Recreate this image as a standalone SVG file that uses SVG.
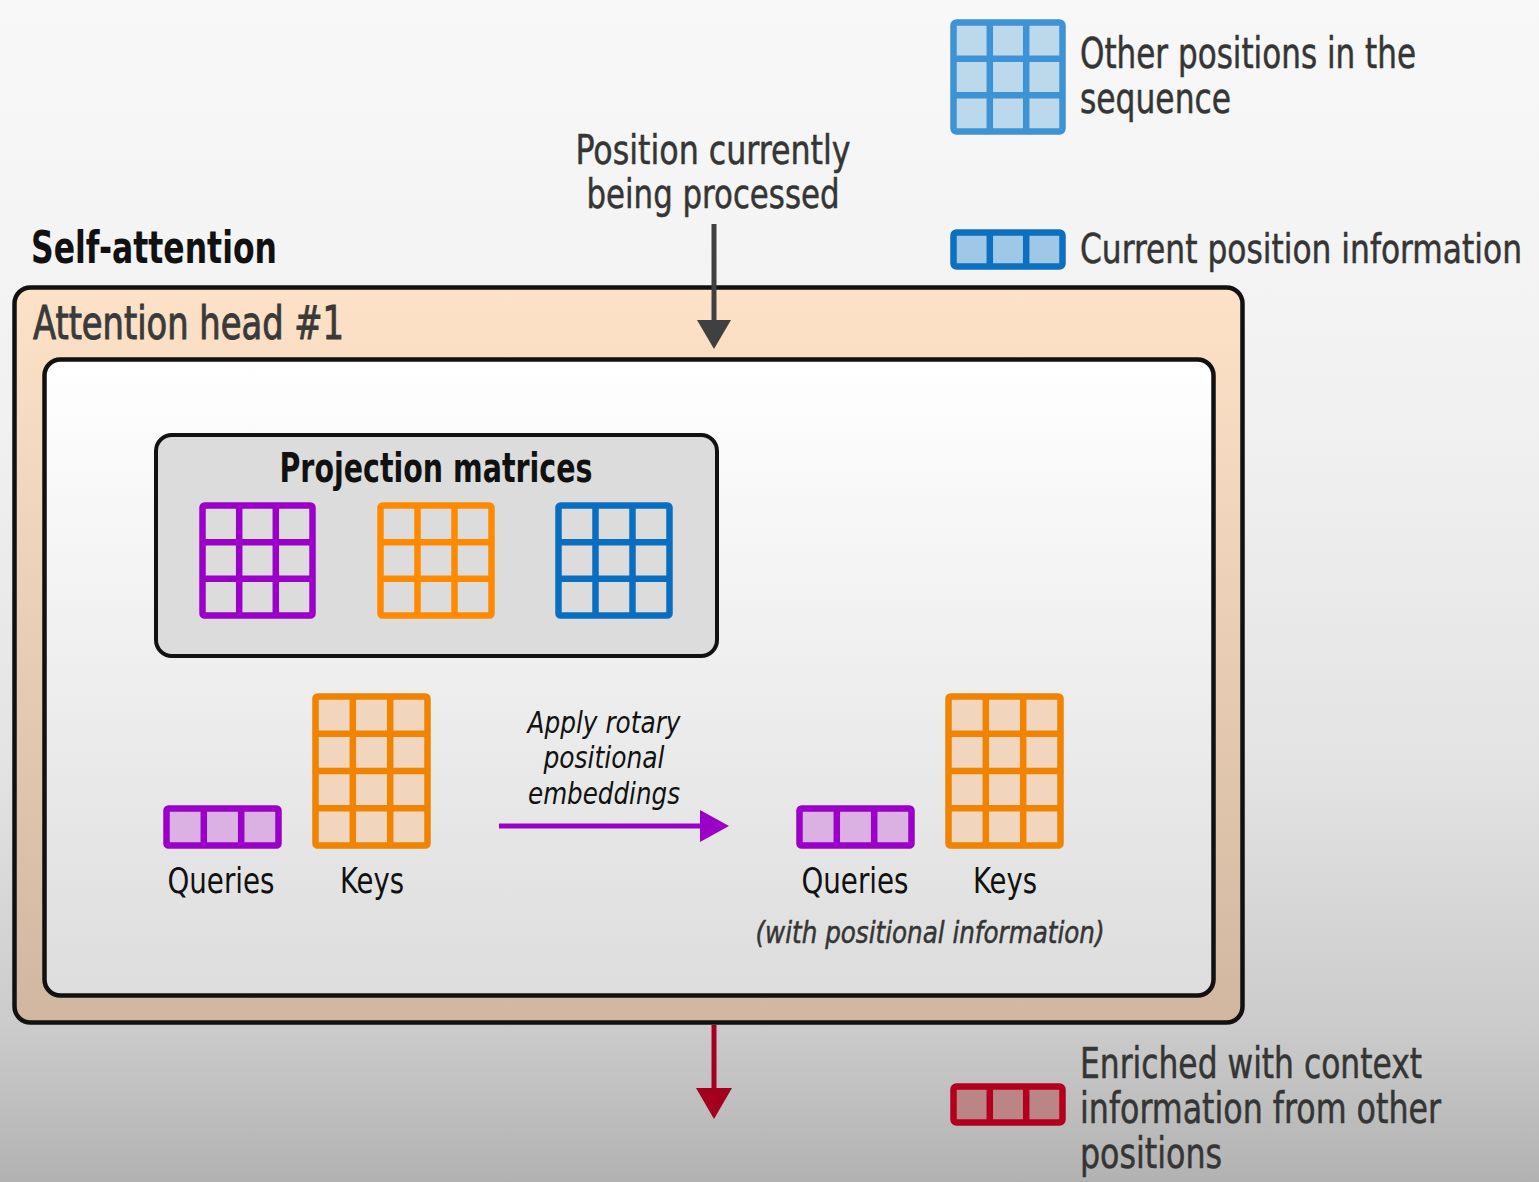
<svg xmlns="http://www.w3.org/2000/svg" width="1539" height="1182" viewBox="0 0 1539 1182">
<defs>
<linearGradient id="bg" x1="0" y1="0" x2="0" y2="1">
<stop offset="0" stop-color="#f8f8f8"/>
<stop offset="0.35" stop-color="#f1f1f1"/>
<stop offset="0.65" stop-color="#e3e3e3"/>
<stop offset="0.87" stop-color="#cbcbcb"/>
<stop offset="1" stop-color="#b2b2b2"/>
</linearGradient>
<linearGradient id="outer" x1="0" y1="0" x2="0" y2="1">
<stop offset="0" stop-color="#fee2c8"/>
<stop offset="1" stop-color="#d2b7a0"/>
</linearGradient>
<linearGradient id="inner" x1="0" y1="0" x2="0" y2="1">
<stop offset="0" stop-color="#ffffff"/>
<stop offset="1" stop-color="#dddddd"/>
</linearGradient>
<style>
.t{font-family:"DejaVu Sans Condensed","DejaVu Sans","Liberation Sans",sans-serif;font-stretch:condensed;}
.dark{fill:#353535;stroke:#353535;stroke-width:0.5;}
.blk{fill:#111111;}
.box{stroke:#111;stroke-width:4.5;}
.g{stroke-width:6.5;stroke-linejoin:round;}
</style>
</defs>
<rect width="1539" height="1182" fill="url(#bg)"/>

<g id="legend-other">
<g class="g" stroke="#3d93d3" fill="#bcd9ec">
<rect x="953.5" y="22.5" width="109" height="109" rx="3"/>
<path d="M989.8 22.5V131.5M1026.2 22.5V131.5M953.5 58.8H1062.5M953.5 95.2H1062.5" fill="none"/>
</g>
<text class="t dark" font-size="42" x="1080" y="68" textLength="336" lengthAdjust="spacingAndGlyphs">Other positions in the</text>
<text class="t dark" font-size="42" x="1080" y="113" textLength="151" lengthAdjust="spacingAndGlyphs">sequence</text>
</g>

<g id="legend-current">
<g class="g" stroke="#0d6fc0" fill="#9fc8e6">
<rect x="953.5" y="232.5" width="109" height="34" rx="3"/>
<path d="M989.8 232.5V266.5M1026.2 232.5V266.5" fill="none"/>
</g>
<text class="t dark" font-size="41" x="1080" y="263" textLength="442" lengthAdjust="spacingAndGlyphs">Current position information</text>
</g>

<g id="legend-enriched">
<g class="g" stroke="#b3001e" fill="#bb8585">
<rect x="953.5" y="1086.5" width="109" height="36" rx="3"/>
<path d="M989.8 1086.5V1122.5M1026.2 1086.5V1122.5" fill="none"/>
</g>
<text class="t dark" font-size="42" x="1080" y="1078" textLength="342" lengthAdjust="spacingAndGlyphs">Enriched with context</text>
<text class="t dark" font-size="42" x="1080" y="1123" textLength="361" lengthAdjust="spacingAndGlyphs">information from other</text>
<text class="t dark" font-size="42" x="1080" y="1168" textLength="142" lengthAdjust="spacingAndGlyphs">positions</text>
</g>

<g id="position-label">
<text class="t dark" font-size="40" x="713" y="164" text-anchor="middle" textLength="275" lengthAdjust="spacingAndGlyphs">Position currently</text>
<text class="t dark" font-size="40" x="713" y="208" text-anchor="middle" textLength="253" lengthAdjust="spacingAndGlyphs">being processed</text>
</g>

<g id="self-attention">
<text class="t blk" font-size="44" font-weight="bold" x="31" y="263" textLength="246" lengthAdjust="spacingAndGlyphs">Self-attention</text>
</g>

<g id="attention-head">
<rect class="box" x="14.5" y="287.5" width="1228" height="735" rx="16" fill="url(#outer)"/>
<text class="t" fill="#3a3a3a" stroke="#3a3a3a" stroke-width="1" font-size="47" x="33" y="339" textLength="311" lengthAdjust="spacingAndGlyphs">Attention head #1</text>
</g>

<g id="inner-box">
<rect class="box" x="44.5" y="359.5" width="1169" height="636" rx="16" fill="url(#inner)"/>
</g>

<g id="projection-matrices">
<rect x="156" y="435" width="561" height="221" rx="16" fill="#dcdcdc" stroke="#111" stroke-width="4"/>
<text class="t blk" font-size="40" font-weight="bold" x="436" y="482" text-anchor="middle" textLength="313" lengthAdjust="spacingAndGlyphs">Projection matrices</text>
<g class="g" stroke="#9a00c8" fill="none">
<rect x="202.5" y="505.5" width="110" height="110" rx="2"/>
<path d="M239.2 505.5V615.5M275.8 505.5V615.5M202.5 542.2H312.5M202.5 578.8H312.5"/>
</g>
<g class="g" stroke="#ff8a00" fill="none">
<rect x="380.5" y="505.5" width="111" height="110" rx="2"/>
<path d="M417.5 505.5V615.5M454.5 505.5V615.5M380.5 542.2H491.5M380.5 578.8H491.5"/>
</g>
<g class="g" stroke="#0a6ec0" fill="none">
<rect x="558.5" y="505.5" width="111" height="110" rx="2"/>
<path d="M595.5 505.5V615.5M632.5 505.5V615.5M558.5 542.2H669.5M558.5 578.8H669.5"/>
</g>
</g>

<g id="queries-left">
<g class="g" stroke="#9a00c8" fill="#dbb0e3">
<rect x="166.5" y="808.5" width="112" height="37" rx="2"/>
<path d="M203.8 808.5V845.5M241.2 808.5V845.5" fill="none"/>
</g>
<text class="t blk" font-size="36" x="221" y="893" text-anchor="middle" textLength="107" lengthAdjust="spacingAndGlyphs">Queries</text>
</g>

<g id="keys-left">
<g class="g" stroke="#f08300" fill="#f1d6bd">
<rect x="315.5" y="696.5" width="112" height="149" rx="2"/>
<path d="M352.8 696.5V845.5M390.2 696.5V845.5M315.5 733.8H427.5M315.5 771H427.5M315.5 808.2H427.5" fill="none"/>
</g>
<text class="t blk" font-size="36" x="372" y="893" text-anchor="middle" textLength="64" lengthAdjust="spacingAndGlyphs">Keys</text>
</g>

<g id="rotary-label">
<text class="t blk" font-size="31" font-style="italic" x="604" y="733" text-anchor="middle" textLength="153" lengthAdjust="spacingAndGlyphs">Apply rotary</text>
<text class="t blk" font-size="31" font-style="italic" x="604" y="768" text-anchor="middle" textLength="121" lengthAdjust="spacingAndGlyphs">positional</text>
<text class="t blk" font-size="31" font-style="italic" x="604" y="804" text-anchor="middle" textLength="152" lengthAdjust="spacingAndGlyphs">embeddings</text>
</g>

<g id="queries-right">
<g class="g" stroke="#9a00c8" fill="#dbb0e3">
<rect x="799.5" y="808.5" width="112" height="37" rx="2"/>
<path d="M836.8 808.5V845.5M874.2 808.5V845.5" fill="none"/>
</g>
<text class="t blk" font-size="36" x="855" y="893" text-anchor="middle" textLength="107" lengthAdjust="spacingAndGlyphs">Queries</text>
</g>

<g id="keys-right">
<g class="g" stroke="#f08300" fill="#f1d6bd">
<rect x="948.5" y="696.5" width="112" height="149" rx="2"/>
<path d="M985.8 696.5V845.5M1023.2 696.5V845.5M948.5 733.8H1060.5M948.5 771H1060.5M948.5 808.2H1060.5" fill="none"/>
</g>
<text class="t blk" font-size="36" x="1005" y="893" text-anchor="middle" textLength="64" lengthAdjust="spacingAndGlyphs">Keys</text>
<text class="t dark" font-size="31" font-style="italic" x="930" y="943" text-anchor="middle" textLength="349" lengthAdjust="spacingAndGlyphs">(with positional information)</text>
</g>

<g id="connectors">
<line x1="714" y1="224" x2="714" y2="324" stroke="#404040" stroke-width="5"/>
<polygon points="697,320 731,320 714,349" fill="#404040"/>
<line x1="499" y1="826" x2="703" y2="826" stroke="#9a00c8" stroke-width="5"/>
<polygon points="700,810 729,826 700,842" fill="#9a00c8"/>
<line x1="714" y1="1025" x2="714" y2="1092" stroke="#a3001e" stroke-width="5"/>
<polygon points="696,1088 732,1088 714,1119" fill="#a3001e"/>
</g>
</svg>
